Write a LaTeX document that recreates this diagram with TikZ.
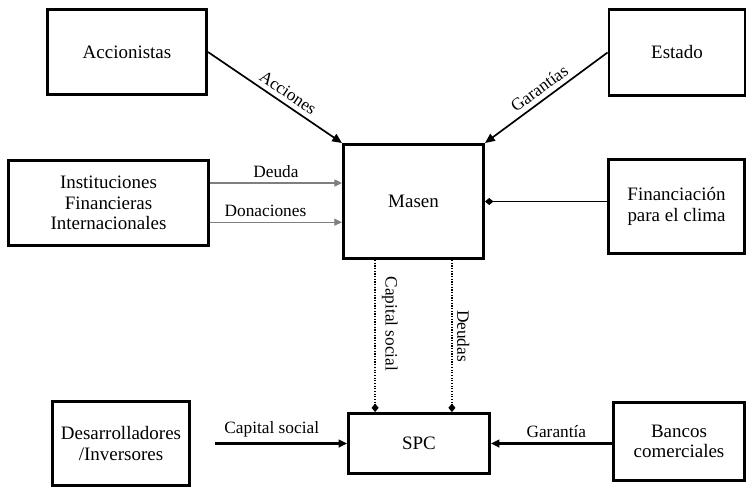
\documentclass[tikz,border=0pt]{standalone}
\usepackage{fontspec}
\setmainfont{Liberation Serif}
\usepackage{xcolor}
\usepackage{tikz}
\usetikzlibrary{arrows.meta,positioning,calc}
\definecolor{cInk}{HTML}{000000}
\definecolor{cGray}{HTML}{7F7F7F}
\tikzset{
  ebox/.style={draw=cInk,line width=2.1pt,align=center,font=\fontsize{13.5}{14.6}\selectfont,inner sep=2pt,text=cInk},
  arr/.style={-{Triangle[length=7pt,width=6pt]},line width=1.2pt,color=cInk},
  garr/.style={-{Triangle[length=5.5pt,width=5pt]},line width=1pt,color=cGray},
  barr/.style={-{Triangle[length=6pt,width=5.5pt]},line width=2pt,color=cInk},
  dmd/.style={-{Diamond[length=6pt,width=5pt]},line width=1pt,color=cInk},
  dline/.style={-{Diamond[length=6pt,width=5pt]},line width=0.9pt,densely dotted,color=cInk},
  lbl/.style={font=\fontsize{12.3}{14}\selectfont,text=cInk},
}

\begin{document}
\begin{tikzpicture}[x=1cm,y=1cm]
  \useasboundingbox (0,0) rectangle (18.675,-12.225);
  % boxes
  \node[ebox,minimum width=3.975cm,minimum height=2.125cm] (acc)   at (3.175,-1.3)      {Accionistas};
  \node[ebox,minimum width=3.4cm,minimum height=2.15cm]    (est)   at (16.925,-1.3125)  {Estado};
  \node[ebox,minimum width=5.0cm,minimum height=2.125cm]   (ifi)   at (2.7125,-5.075)   {Instituciones\\Financieras\\Internacionales};
  \node[ebox,minimum width=3.5cm,minimum height=2.85cm]    (masen) at (10.3375,-5.0375) {Masen};
  \node[ebox,minimum width=3.4cm,minimum height=2.35cm]    (fin)   at (16.9125,-5.1625) {Financiación\\para el clima};
  \node[ebox,minimum width=3.425cm,minimum height=2.1cm]   (des)   at (3.025,-11.0875)  {Desarrolladores\\/Inversores};
  \node[ebox,minimum width=3.525cm,minimum height=1.5cm]   (spc)   at (10.475,-11.0875) {SPC};
  \node[ebox,minimum width=3.275cm,minimum height=1.95cm]  (ban)   at (16.975,-11.0375) {Bancos\\comerciales};
  % arrows into Masen
  \draw[arr] (acc.east) -- (masen.north west) node[lbl,pos=0.55,above,sloped] {Acciones};
  \draw[arr] (est.west) -- (masen.north east) node[lbl,pos=0.5,above,sloped] {Garantías};
  \coordinate (deu) at ([yshift=5mm]ifi.east);
  \coordinate (don) at ([yshift=-4.8mm]ifi.east);
  \draw[garr] (deu) -- (deu -| masen.west) node[lbl,midway,above] {Deuda};
  \draw[garr] (don) -- (don -| masen.west) node[lbl,pos=0.42,above] {Donaciones};
  \draw[dmd] (masen.east -| fin.west) -- (masen.east);
  % Masen to SPC
  \coordinate (mcs) at ([xshift=-0.96cm]masen.south);
  \coordinate (mdd) at ([xshift=0.96cm]masen.south);
  \draw[dline] (mcs) -- (mcs |- spc.north) node[lbl,pos=0.42,anchor=south,rotate=-90,yshift=1pt] {Capital social};
  \draw[dline] (mdd) -- (mdd |- spc.north) node[lbl,pos=0.5,anchor=south,rotate=-90] {Deudas};
  % into SPC
  \coordinate (dst) at ([xshift=0.6cm]des.east |- spc.west);
  \draw[barr] (dst) -- (spc.west) node[lbl,pos=0.43,above] {Capital social};
  \draw[barr] (spc.east -| ban.west) -- (spc.east) node[lbl,pos=0.46,above] {Garantía};
\end{tikzpicture}
\end{document}
